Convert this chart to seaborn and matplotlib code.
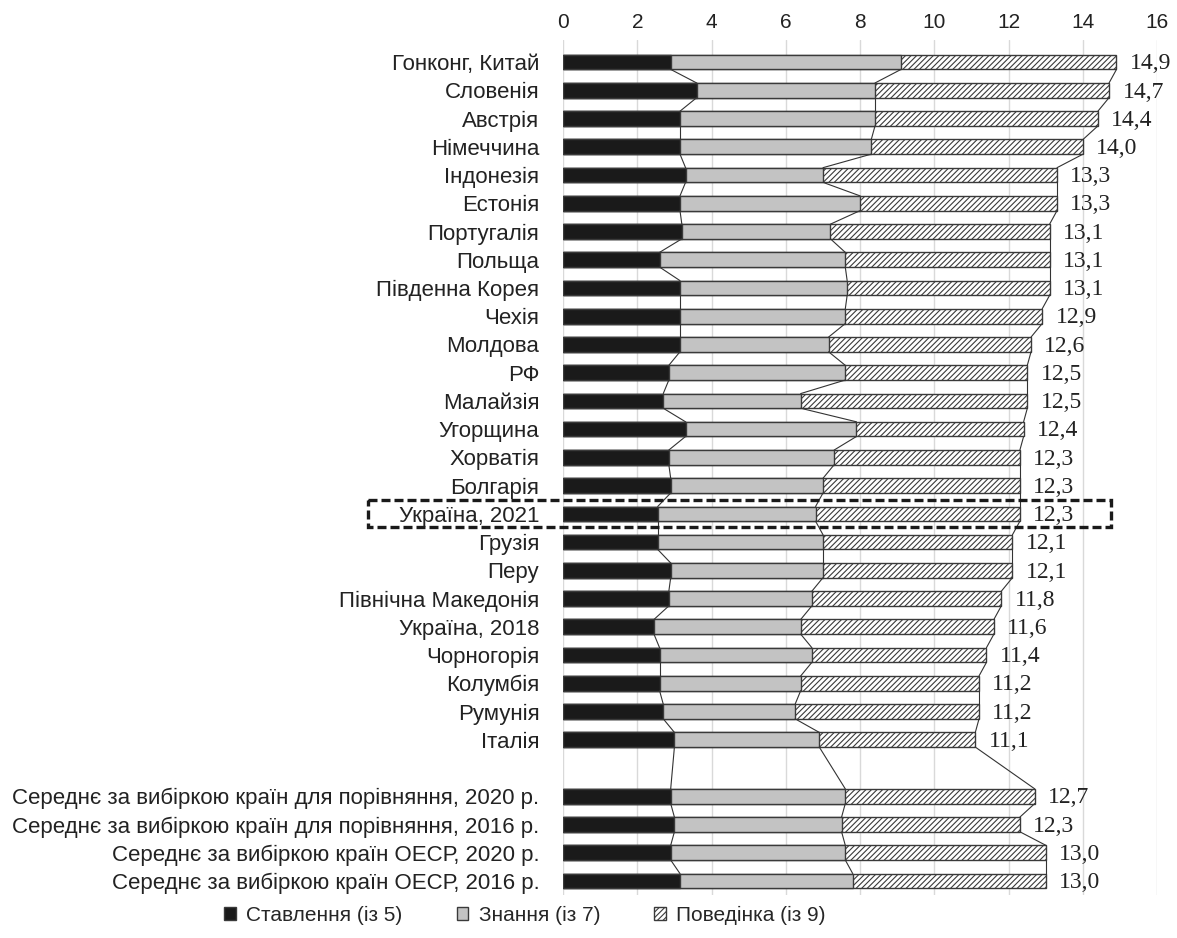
import matplotlib
matplotlib.use('Agg')
import matplotlib.pyplot as plt
from matplotlib.patches import Patch, Rectangle
import seaborn as sns
import pandas as pd


countries = ['Гонконг, Китай', 'Словенія', 'Австрія', 'Німеччина', 'Індонезія',
             'Естонія', 'Португалія', 'Польща', 'Південна Корея', 'Чехія',
             'Молдова', 'РФ', 'Малайзія', 'Угорщина', 'Хорватія', 'Болгарія',
             'Україна, 2021', 'Грузія', 'Перу', 'Північна Македонія',
             'Україна, 2018', 'Чорногорія', 'Колумбія', 'Румунія', 'Італія']
averages = ['Середнє за вибіркою країн для порівняння, 2020 р.',
            'Середнє за вибіркою країн для порівняння, 2016 р.',
            'Середнє за вибіркою країн ОЕСР, 2020 р.',
            'Середнє за вибіркою країн ОЕСР, 2016 р.']

# scores: attitude (of 5), knowledge (of 7), behaviour (of 9)
attitude = [2.9, 3.6, 3.15, 3.15, 3.3, 3.15, 3.2, 2.6, 3.15, 3.15, 3.15, 2.85,
            2.7, 3.3, 2.85, 2.9, 2.55, 2.55, 2.9, 2.85, 2.45, 2.6, 2.6, 2.7, 3.0,
            2.9, 3.0, 2.9, 3.15]
knowledge = [6.2, 4.8, 5.25, 5.15, 3.7, 4.85, 4.0, 5.0, 4.5, 4.45, 4.0, 4.75,
             3.7, 4.6, 4.45, 4.1, 4.25, 4.45, 4.1, 3.85, 3.95, 4.1, 3.8, 3.55,
             3.9, 4.7, 4.5, 4.7, 4.65]
behaviour = [5.8, 6.3, 6.0, 5.7, 6.3, 5.3, 5.9, 5.5, 5.45, 5.3, 5.45, 4.9,
             6.1, 4.5, 5.0, 5.3, 5.5, 5.1, 5.1, 5.1, 5.2, 4.7, 4.8, 4.95, 4.2,
             5.1, 4.8, 5.4, 5.2]

legend_labels = ['Ставлення (із 5)', 'Знання (із 7)', 'Поведінка (із 9)']
x_ticks = [0, 2, 4, 6, 8, 10, 12, 14, 16]

labels = countries + averages
order = countries + [' '] + averages

df = pd.DataFrame({'label': labels, 'att': attitude, 'know': knowledge,
                   'beh': behaviour})
df['black_end'] = df['att']
df['gray_end'] = df['att'] + df['know']
df['total'] = df['gray_end'] + df['beh']

sns.set_theme(style='white')
plt.rcParams['font.family'] = ['Liberation Sans', 'DejaVu Sans']
plt.rcParams['hatch.linewidth'] = 0.8
plt.rcParams['hatch.color'] = '#222222'

BAR_H = 0.52
EDGE = '#3a3a3a'

fig = plt.figure(figsize=(11.77, 9.38), dpi=100)
ax = fig.add_axes([0.4783, 0.0458, 0.505, 0.9115])

# stacked bars drawn as overlapping cumulative bars
sns.barplot(data=df, x='total', y='label', order=order, orient='h',
            color='white', edgecolor=EDGE, linewidth=1.0, hatch='//////',
            width=BAR_H, errorbar=None, saturation=1, ax=ax)
sns.barplot(data=df, x='gray_end', y='label', order=order, orient='h',
            color='#c3c3c3', edgecolor=EDGE, linewidth=1.0,
            width=BAR_H, errorbar=None, saturation=1, ax=ax)
sns.barplot(data=df, x='black_end', y='label', order=order, orient='h',
            color='#1a1a1a', edgecolor=EDGE, linewidth=1.0,
            width=BAR_H, errorbar=None, saturation=1, ax=ax)

# series lines between consecutive bars
pos = [order.index(l) for l in labels]
for col in ['black_end', 'gray_end', 'total']:
    vals = df[col].tolist()
    for i in range(len(vals) - 1):
        ax.plot([vals[i], vals[i + 1]],
                [pos[i] + BAR_H / 2, pos[i + 1] - BAR_H / 2],
                color='#333333', lw=0.8, zorder=3)

# value labels
for p, t in zip(pos, df['total']):
    ax.text(t + 0.36, p + 0.06, f'{t:.1f}'.replace('.', ','),
            fontfamily='Liberation Serif', fontsize=17, va='center',
            ha='left', color='#222222')

ax.set_xlim(0, 16)
ax.set_ylim(29.5, -0.78)
ax.set_xticks(x_ticks)
ax.xaxis.tick_top()
ax.tick_params(axis='x', length=0, labelsize=15, pad=6, colors='#222222')
ax.tick_params(axis='y', length=0, labelsize=16, pad=17, colors='#222222')
ax.set_xlabel('')
ax.set_ylabel('')
ax.set_axisbelow(True)
ax.grid(axis='x', color='#d9d9d9', lw=1)
ax.grid(axis='y', visible=False)
for s in ax.spines.values():
    s.set_visible(False)

# dashed highlight around Ukraine 2021
ui = order.index('Україна, 2021')
ax.add_patch(Rectangle((-5.26, ui - 0.5), 20.0, 0.96, fill=False,
                       edgecolor='#1a1a1a', lw=2.4, ls=(0, (2.7, 1.2)),
                       clip_on=False, zorder=5))

handles = [Patch(facecolor='#1a1a1a', edgecolor=EDGE),
           Patch(facecolor='#c3c3c3', edgecolor=EDGE),
           Patch(facecolor='white', edgecolor=EDGE, hatch='//////')]
fig.legend(handles, legend_labels, loc='center', bbox_to_anchor=(0.446, 0.024),
           ncol=3, frameon=False, fontsize=15, handlelength=0.55,
           handleheight=0.55, handletextpad=0.5, columnspacing=2.6)

fig.savefig('out.png', dpi=100)
